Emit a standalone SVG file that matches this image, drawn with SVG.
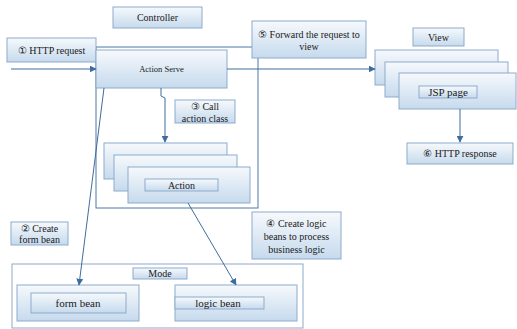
<svg xmlns="http://www.w3.org/2000/svg" width="517" height="329" viewBox="0 0 517 329" font-family="'Liberation Serif', 'Times New Roman', serif">
<defs>
<linearGradient id="g" x1="0" y1="0" x2="0" y2="1">
<stop offset="0" stop-color="#f6f9fc"/>
<stop offset="1" stop-color="#c6daed"/>
</linearGradient>
<marker id="ah" viewBox="0 0 10 10" refX="9" refY="5" markerWidth="7" markerHeight="7" markerUnits="userSpaceOnUse" orient="auto">
<path d="M0,0 L10,5 L0,10 Z" fill="#3f6c9e"/>
</marker>
</defs>
<style>
.b{fill:url(#g);stroke:#8eabcc;stroke-width:1}
.f{fill:none;stroke:#4d78a6;stroke-width:1}
.fm{fill:none;stroke:#8ea9c8;stroke-width:1}
.c{fill:none;stroke:#3f6c9e;stroke-width:1;marker-end:url(#ah)}
text{font-family:'Liberation Serif','Times New Roman',serif;font-size:10px;fill:#1a1a1a;text-anchor:middle}
.s{font-size:8.5px}
.m{font-size:11px}
</style>
<rect width="517" height="329" fill="#fff"/>

<g id="controller-frame"><rect class="f" x="96" y="47" width="162" height="161"/></g>
<g id="mode-frame"><rect class="fm" x="12" y="264" width="291" height="64"/></g>

<g id="controller-label"><rect class="b" x="113" y="7" width="89" height="21"/><text x="157.5" y="21">Controller</text></g>
<g id="http-request"><rect class="b" x="7" y="38" width="89" height="24"/><text x="51.5" y="53.5">① HTTP request</text></g>
<g id="action-serve"><rect class="b" x="96" y="50" width="131" height="38"/><text class="s" x="161.5" y="72">Action Serve</text></g>
<g id="forward-label"><rect class="b" x="252" y="21" width="114" height="37"/><text x="309" y="37.5">⑤ Forward the request to</text><text x="309" y="49.5">view</text></g>
<g id="view-label"><rect class="b" x="413" y="28" width="51" height="18"/><text x="438.5" y="40.5">View</text></g>
<g id="jsp-stack">
<rect class="b" x="375" y="50" width="123" height="35"/>
<rect class="b" x="385" y="62" width="123" height="35"/>
<rect class="b" x="399" y="73" width="117" height="36"/>
<rect class="b" x="419" y="86" width="58" height="12"/>
<text class="m" x="448" y="95.5">JSP page</text>
</g>
<g id="http-response"><rect class="b" x="407" y="143" width="106" height="21"/><text x="460" y="157">⑥ HTTP response</text></g>
<g id="call-action-label"><rect class="b" x="175" y="100" width="60" height="23"/><text x="205" y="109.5">③ Call</text><text x="205" y="121.5">action class</text></g>
<g id="action-stack">
<rect class="b" x="104" y="143" width="123" height="36"/>
<rect class="b" x="114" y="155" width="123" height="36"/>
<rect class="b" x="128" y="167" width="122" height="36"/>
<rect class="b" x="145" y="179" width="73" height="12"/>
<text x="181.5" y="188.5">Action</text>
</g>
<g id="create-form-bean-label"><rect class="b" x="11" y="222" width="57" height="23"/><text x="39.5" y="231.5">② Create</text><text x="39.5" y="243">form bean</text></g>
<g id="create-logic-label"><rect class="b" x="252" y="212" width="89" height="47"/><text x="296.5" y="226.5">④ Create logic</text><text x="296.5" y="240">beans to process</text><text x="296.5" y="253">business logic</text></g>
<g id="mode-label"><rect class="b" x="133" y="268" width="54" height="11"/><text x="160" y="277">Mode</text></g>
<g id="form-bean">
<rect class="b" x="17" y="285" width="122" height="36"/>
<rect class="b" x="31" y="293" width="95" height="20"/>
<text class="m" x="78" y="306.5">form bean</text>
</g>
<g id="logic-bean">
<rect class="b" x="175" y="285" width="122" height="36"/>
<rect class="b" x="175" y="297" width="89" height="12"/>
<text class="m" x="218" y="306.5">logic bean</text>
</g>

<g id="connectors">
<line class="c" x1="11" y1="69" x2="96" y2="69"/>
<line class="c" x1="227" y1="69" x2="375" y2="69"/>
<polyline class="c" points="161,88 161,96 165,98 165,142"/>
<line class="c" x1="460" y1="109" x2="460" y2="142"/>
<line class="c" x1="104" y1="88" x2="79" y2="285"/>
<line class="c" x1="188" y1="203" x2="236" y2="285"/>
</g>
</svg>
